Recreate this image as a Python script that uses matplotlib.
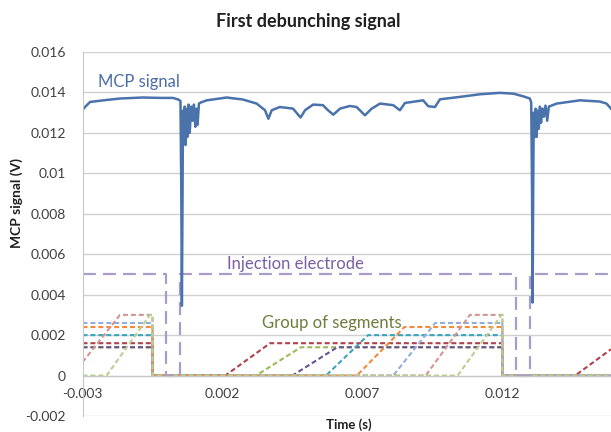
import matplotlib.pyplot as plt
import numpy as np

plt.rcParams['font.family'] = ['Lato', 'DejaVu Sans']

# MCP signal (time in s, signal in V)
mcp_t = [-0.00300, -0.00291, -0.00273, -0.00226, -0.00166, -0.00084, -0.00023, 0.00023,
         0.00042, 0.00050, 0.00053, 0.00055, 0.00057, 0.00059, 0.00062, 0.00065,
         0.00068, 0.00071, 0.00075, 0.00079, 0.00083, 0.00088, 0.00093, 0.00098,
         0.00103, 0.00107, 0.00111, 0.00116, 0.00122, 0.00144, 0.00215, 0.00273,
         0.00322, 0.00352, 0.00364, 0.00376, 0.00405, 0.00452, 0.00479, 0.00495,
         0.00524, 0.00559, 0.00577, 0.00596, 0.00620, 0.00655, 0.00679, 0.00709,
         0.00733, 0.00763, 0.00810, 0.00834, 0.00852, 0.00917, 0.00935, 0.00959,
         0.00977, 0.01048, 0.01120, 0.01191, 0.01239, 0.01274, 0.01298, 0.01303,
         0.01306, 0.01308, 0.01310, 0.01312, 0.01315, 0.01319, 0.01322, 0.01326,
         0.01330, 0.01334, 0.01338, 0.01343, 0.01348, 0.01354, 0.01360, 0.01366,
         0.01394, 0.01477, 0.01548, 0.01572, 0.01588]
mcp_v = [0.01312, 0.01328, 0.01353, 0.01361, 0.01370, 0.01375, 0.01373, 0.01373,
         0.01365, 0.01358, 0.00900, 0.00345, 0.00800, 0.01310, 0.01160, 0.01330,
         0.01140, 0.01320, 0.01180, 0.01340, 0.01200, 0.01330, 0.01260, 0.01340,
         0.01230, 0.01320, 0.01240, 0.01345, 0.01350, 0.01361, 0.01375, 0.01365,
         0.01345, 0.01312, 0.01270, 0.01312, 0.01328, 0.01320, 0.01276, 0.01312,
         0.01340, 0.01337, 0.01312, 0.01290, 0.01320, 0.01333, 0.01328, 0.01287,
         0.01320, 0.01345, 0.01337, 0.01312, 0.01348, 0.01361, 0.01332, 0.01328,
         0.01366, 0.01378, 0.01391, 0.01398, 0.01394, 0.01381, 0.01370, 0.01350,
         0.00900, 0.00361, 0.00900, 0.01300, 0.01180, 0.01320, 0.01180, 0.01310,
         0.01220, 0.01330, 0.01250, 0.01320, 0.01280, 0.01335, 0.01260, 0.01330,
         0.01345, 0.01361, 0.01355, 0.01345, 0.01320]

# Injection electrode
inj_t = [-0.003, 0.0, 0.0, 0.0005, 0.0005, 0.0125, 0.0125, 0.013, 0.013, 0.01588]
inj_v = [0.005, 0.005, 0.0, 0.0, 0.005, 0.005, 0.0, 0.0, 0.005, 0.005]

# Group of segments: (time points, values, colour)
seg_red_t = [-0.003, -0.0005, -0.0005, 0.0021, 0.0037, 0.012, 0.012, 0.0146, 0.01588]
seg_red_v = [0.0016, 0.0016, 0.0, 0.0, 0.0016, 0.0016, 0.0, 0.0, 0.0013]
seg_green_t = [-0.003, -0.0005, -0.0005, 0.0032, 0.0048, 0.012, 0.012, 0.01588]
seg_green_v = [0.0014, 0.0014, 0.0, 0.0, 0.0014, 0.0014, 0.0, 0.0]
seg_purple_t = [-0.003, -0.0005, -0.0005, 0.0045, 0.0061, 0.012, 0.012, 0.01588]
seg_purple_v = [0.0014, 0.0014, 0.0, 0.0, 0.0014, 0.0014, 0.0, 0.0]
seg_teal_t = [-0.003, -0.0005, -0.0005, 0.0057, 0.0072, 0.012, 0.012, 0.01588]
seg_teal_v = [0.002, 0.002, 0.0, 0.0, 0.002, 0.002, 0.0, 0.0]
seg_orange_t = [-0.003, -0.0005, -0.0005, 0.0068, 0.0085, 0.012, 0.012, 0.01588]
seg_orange_v = [0.0024, 0.0024, 0.0, 0.0, 0.0024, 0.0024, 0.0, 0.0]
seg_lblue_t = [-0.003, -0.0005, -0.0005, 0.0081, 0.0096, 0.012, 0.012, 0.01588]
seg_lblue_v = [0.0026, 0.0026, 0.0, 0.0, 0.0026, 0.0026, 0.0, 0.0]
seg_pink_t = [-0.003, -0.00166, -0.0005, -0.0005, 0.00926, 0.01084, 0.012, 0.012, 0.01588]
seg_pink_v = [0.00066, 0.003, 0.003, 0.0, 0.0, 0.003, 0.003, 0.0, 0.0]
seg_lgreen_t = [-0.003, -0.00214, -0.00059, -0.0005, -0.0005, 0.0104, 0.01197, 0.012, 0.012, 0.01588]
seg_lgreen_v = [0.0, 0.0, 0.003, 0.003, 0.0, 0.0, 0.003, 0.003, 0.0, 0.0]

segments = [
    (seg_red_t, seg_red_v, '#B0404A'),
    (seg_green_t, seg_green_v, '#9BBB59'),
    (seg_purple_t, seg_purple_v, '#6A5290'),
    (seg_teal_t, seg_teal_v, '#3AA6BE'),
    (seg_orange_t, seg_orange_v, '#F28C3A'),
    (seg_lblue_t, seg_lblue_v, '#92AEDB'),
    (seg_pink_t, seg_pink_v, '#D39593'),
    (seg_lgreen_t, seg_lgreen_v, '#BACF92'),
]

xticks = [-0.003, 0.002, 0.007, 0.012]
xlabels = ['-0.003', '0.002', '0.007', '0.012']
yticks = [-0.002, 0, 0.002, 0.004, 0.006, 0.008, 0.01, 0.012, 0.014, 0.016]
ylabels = ['-0.002', '0', '0.002', '0.004', '0.006', '0.008', '0.01', '0.012', '0.014', '0.016']

fig = plt.figure(figsize=(6.11, 4.32), dpi=100)
ax = fig.add_axes([82.5 / 611, 1 - 416 / 432, 1 - 82.5 / 611, (416 - 52) / 432])

for t, v, c in segments:
    ax.plot(t, v, color=c, lw=1.5, dashes=(2.4, 1.4))

ax.plot(inj_t, inj_v, color='#A99CC8', lw=1.6, dashes=(5.8, 3.2))
ax.plot(mcp_t, mcp_v, color='#4A72AB', lw=1.8)

ax.set_xlim(-0.003, 0.01588)
ax.set_ylim(-0.002, 0.016)
ax.set_xticks(xticks)
ax.set_xticklabels(xlabels)
ax.set_yticks(yticks)
ax.set_yticklabels(ylabels)
ax.tick_params(length=0, labelsize=10, colors='#404040')
ax.tick_params(axis='y', pad=12)
ax.tick_params(axis='x', pad=9)
ax.yaxis.grid(True, color='#D0D0D0', lw=1)
ax.set_axisbelow(True)
for s in ['top', 'right']:
    ax.spines[s].set_visible(False)
ax.spines['left'].set_color('#C8C8C8')
ax.spines['bottom'].set_color('#C8C8C8')
ax.spines['bottom'].set_position(('data', 0))

ax.text(-0.00246, 0.0145, 'MCP signal', color='#4A6FA5', fontsize=12, va='center')
ax.text(0.0046, 0.0055, 'Injection electrode', color='#7A5FA3', fontsize=12,
        va='center', ha='center')
ax.text(0.0059, 0.0026, 'Group of segments', color='#6E7C3C', fontsize=12,
        va='center', ha='center')

fig.text(308 / 611, 1 - 22 / 432, 'First debunching signal', fontsize=13,
         fontweight='bold', ha='center', va='center', color='#202020')
fig.text(349 / 611, 1 - 425 / 432, 'Time (s)', fontsize=9.5, fontweight='bold',
         ha='center', va='center', color='#202020')
fig.text(17 / 611, 1 - 203 / 432, 'MCP signal (V)', fontsize=10, fontweight='bold',
         ha='center', va='center', rotation=90, color='#202020')

plt.savefig('out.png', dpi=100)
